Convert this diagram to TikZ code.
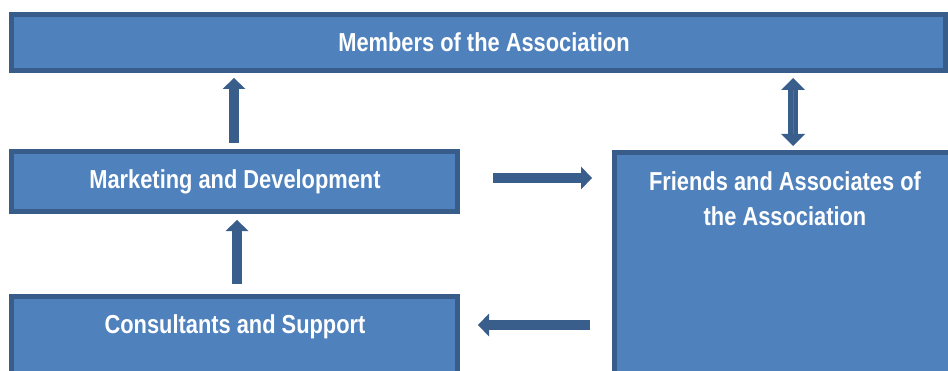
\documentclass[tikz,border=0pt]{standalone}
\usepackage{fontspec}
\setmainfont{Liberation Sans}[FakeStretch=0.84]
\usetikzlibrary{arrows.meta}
\definecolor{boxfill}{HTML}{4F81BD}
\definecolor{boxline}{HTML}{385D8A}
\definecolor{arrowc}{HTML}{3A5E8C}
\begin{document}
\begin{tikzpicture}[x=1pt,y=1pt,
  box/.style={draw=boxline, fill=boxfill, line width=5pt, rectangle, inner sep=0pt},
  lbl/.style={text=white, font=\fontsize{26}{35}\selectfont\bfseries, align=center, anchor=base, inner sep=0pt},
  barrow/.style={draw=arrowc, line width=10pt, -{Triangle[width=23pt,length=11pt,line width=0pt]}},
  dbarrow/.style={draw=arrowc, line width=10pt, {Triangle[width=24pt,length=12pt,line width=0pt]}-{Triangle[width=24pt,length=12pt,line width=0pt]}},
]
\useasboundingbox (0,0) rectangle (948,370);
\begin{scope}
\clip (0,0) rectangle (948,370);
\node[box, minimum width=934pt, minimum height=56pt] (members) at (478.5,327.5) {};
\node[box, minimum width=446pt, minimum height=60pt] (mkt) at (234.5,188.5) {};
\node[box, minimum width=446pt, minimum height=103.5pt] (cons) at (234.5,21.75) {};
\node[box, minimum width=353pt, minimum height=245pt] (friends) at (791,95) {};

\node[lbl] (tmembers) at (484,318) {Members of the Association};
\node[lbl] (tmkt) at (235,182) {Marketing and Development};
\node[lbl] (tcons) at (235,37) {Consultants and Support};
\node[lbl] (tfriends) at (785,144.5) {Friends and Associates of\\the Association};

% arrows
\draw[barrow] ([xshift=-0.5pt,yshift=6pt]mkt.north) coordinate (a1s) -- ([yshift=-5pt]a1s |- members.south);
\draw[dbarrow] ([xshift=2pt,yshift=4pt]friends.north) coordinate (a2s) -- ([yshift=-5pt]a2s |- members.south);
\draw[draw=boxfill!60!arrowc, line width=0.8pt] ([yshift=12pt]a2s) -- ([yshift=-17pt]a2s |- members.south);
\draw[barrow] ([xshift=33pt,yshift=3.5pt]mkt.east) coordinate (a3s) -- ([xshift=-20pt]a3s -| friends.west);
\draw[barrow] ([xshift=-22pt,yshift=8pt]friends.west |- tcons.base) coordinate (a5s) -- ([xshift=18pt]a5s -| cons.east);
\draw[barrow] ([xshift=2.5pt,yshift=10pt]cons.north) coordinate (a4s) -- ([yshift=-6pt]a4s |- mkt.south);
\end{scope}
\end{tikzpicture}
\end{document}
